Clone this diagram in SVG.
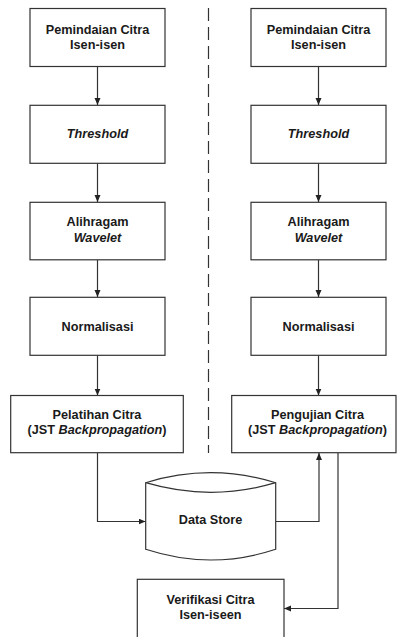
<svg xmlns="http://www.w3.org/2000/svg" width="397" height="637" viewBox="0 0 397 637">
<defs>
<marker id="ah" markerUnits="userSpaceOnUse" markerWidth="8" markerHeight="7" refX="7" refY="3" orient="auto">
<path d="M0,0 L7,3 L0,6 z" fill="#222"/>
</marker>
<style>
.box{fill:#fff;stroke:#333;stroke-width:1.2}
.t{font-family:"Liberation Sans",Arial,sans-serif;font-weight:bold;font-size:12.7px;fill:#1a1a1a;text-anchor:middle}
.i{font-style:italic}
.c{fill:none;stroke:#333;stroke-width:1.2}
.a{marker-end:url(#ah)}
</style>
</defs>
<rect width="397" height="637" fill="#fff"/>
<g id="divider"><line x1="208.5" y1="8" x2="208.5" y2="453" stroke="#333" stroke-width="1.2" stroke-dasharray="13 6"/></g>
<g id="connectors">
<line class="c a" x1="97.5" y1="66.5" x2="97.5" y2="105"/>
<line class="c a" x1="97.5" y1="163.5" x2="97.5" y2="202"/>
<line class="c a" x1="97.5" y1="260" x2="97.5" y2="297"/>
<line class="c a" x1="97.5" y1="355.5" x2="97.5" y2="395.5"/>
<line class="c a" x1="318.5" y1="66.5" x2="318.5" y2="105"/>
<line class="c a" x1="318.5" y1="163.5" x2="318.5" y2="202"/>
<line class="c a" x1="318.5" y1="260" x2="318.5" y2="297"/>
<line class="c a" x1="318.5" y1="355.5" x2="318.5" y2="395.5"/>
<polyline class="c a" points="97.5,453 97.5,521.5 145.5,521.5"/>
<polyline class="c a" points="275.7,521.5 319,521.5 319,453"/>
<polyline class="c a" points="338,453 338,608.5 284,608.5"/>
</g>
<g id="scanL"><rect class="box" x="30" y="8.5" width="135" height="58"/><text class="t" x="97.5" y="33.7">Pemindaian Citra</text><text class="t" x="97.5" y="48.7">Isen-isen</text></g>
<g id="thrL"><rect class="box" x="30" y="105.3" width="135" height="58"/><text class="t i" x="97.5" y="137.7">Threshold</text></g>
<g id="wavL"><rect class="box" x="30" y="202.3" width="135" height="57.5"/><text class="t" x="97.5" y="226.3">Alihragam</text><text class="t i" x="97.5" y="241.7">Wavelet</text></g>
<g id="normL"><rect class="box" x="30" y="297.3" width="135" height="58"/><text class="t" x="97.5" y="331">Normalisasi</text></g>
<g id="train"><rect class="box" x="10.7" y="395.5" width="172.6" height="57.2"/><text class="t" x="97" y="418.9">Pelatihan Citra</text><text class="t" x="97" y="434.3">(JST <tspan class="i">Backpropagation</tspan>)</text></g>
<g id="scanR"><rect class="box" x="251" y="8.5" width="135" height="58"/><text class="t" x="318.5" y="33.7">Pemindaian Citra</text><text class="t" x="318.5" y="48.7">Isen-isen</text></g>
<g id="thrR"><rect class="box" x="251" y="105.3" width="135" height="58"/><text class="t i" x="318.5" y="137.7">Threshold</text></g>
<g id="wavR"><rect class="box" x="251" y="202.3" width="135" height="57.5"/><text class="t" x="318.5" y="226.3">Alihragam</text><text class="t i" x="318.5" y="241.7">Wavelet</text></g>
<g id="normR"><rect class="box" x="251" y="297.3" width="135" height="58"/><text class="t" x="318.5" y="331">Normalisasi</text></g>
<g id="test"><rect class="box" x="231.7" y="395.5" width="164.3" height="57.2"/><text class="t" x="317.5" y="418.9">Pengujian Citra</text><text class="t" x="317.5" y="434.3">(JST <tspan class="i">Backpropagation</tspan>)</text></g>
<g id="store"><path class="box" d="M145.7,482.7 Q210.7,462.7 275.7,482.7 L275.7,549.3 Q210.7,570.7 145.7,549.3 Z"/><path class="c" d="M145.7,482.7 Q210.7,501.9 275.7,482.7"/><text class="t" x="210.5" y="524.3">Data Store</text></g>
<g id="verify"><rect class="box" x="137.3" y="579.3" width="146.7" height="70"/><text class="t" x="210.5" y="604.3">Verifikasi Citra</text><text class="t" x="210.5" y="619.3">Isen-iseen</text></g>
</svg>
